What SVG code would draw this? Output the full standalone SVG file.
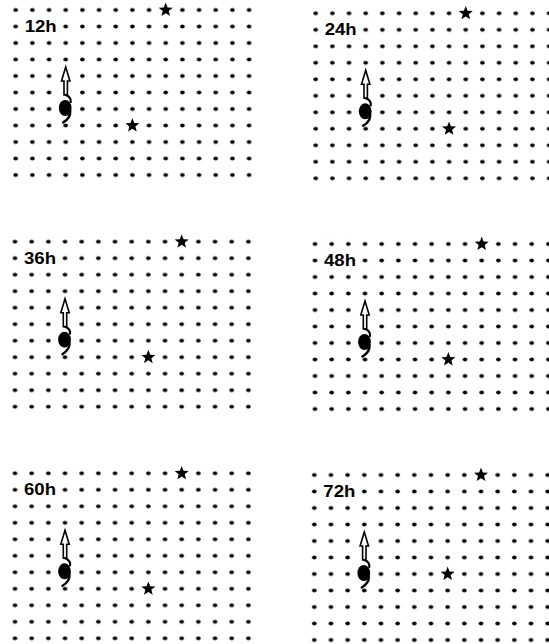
<svg xmlns="http://www.w3.org/2000/svg" xmlns:xlink="http://www.w3.org/1999/xlink" width="549" height="644" viewBox="0 0 549 644">
<style>
.grid{fill:url(#dots)}
.lblbg{fill:#fff}
.lbl{font-family:"Liberation Sans",Arial,sans-serif;font-weight:bold;font-size:16px;fill:#000}
.arrow{fill:#fff;stroke:#000;stroke-width:1.6;stroke-linejoin:miter}
.stroke{fill:none;stroke:#000;stroke-linecap:round}
</style>
<defs>
<pattern id="dots" width="16.67" height="16.5" patternUnits="userSpaceOnUse" x="-8.335" y="-8.25">
<ellipse cx="8.335" cy="8.25" rx="2.3" ry="1.9" fill="#000"/>
</pattern>
<path id="star" d="M0,-7.4 L1.85,-2.55 L7.04,-2.29 L2.99,0.97 L4.35,5.99 L0,3.15 L-4.35,5.99 L-2.99,0.97 L-7.04,-2.29 L-1.85,-2.55 Z" fill="#000"/>
<g id="storm">
<rect x="-3.4" y="-37" width="6.8" height="24" fill="#fff"/>
<polygon class="arrow" points="0,-42 4.2,-28 1.7,-28 1.7,-14 -1.7,-14 -1.7,-28 -4.2,-28"/>
<path class="stroke" d="M0,-14 C3,-13 5.5,-11 5,-7" stroke-width="2.2"/>
<ellipse cx="-0.5" cy="-1" rx="6.4" ry="8" fill="#000"/>
<path class="stroke" d="M4.5,2 C5,8 1.5,11 -2.5,13.5" stroke-width="2.4"/>
</g>
</defs>
<rect width="549" height="644" fill="#fff"/>

<g id="panel-12h" transform="translate(15.7,10)">
<rect class="grid" x="-8.335" y="-8.25" width="250.05" height="181.5"/>
<rect class="lblbg" x="8.5" y="9" width="33" height="15"/>
<text class="lbl" x="25" y="22.2" text-anchor="middle" textLength="32" lengthAdjust="spacingAndGlyphs">12h</text>
<use xlink:href="#star" x="150.03" y="0"/>
<use xlink:href="#star" x="116.69" y="115.5"/>
<use xlink:href="#storm" x="50" y="99"/>
</g>

<g id="panel-24h" transform="translate(315.7,13.3)">
<rect class="grid" x="-8.335" y="-8.25" width="250.05" height="181.5"/>
<rect class="lblbg" x="8.5" y="9" width="33" height="15"/>
<text class="lbl" x="25" y="22.2" text-anchor="middle" textLength="32" lengthAdjust="spacingAndGlyphs">24h</text>
<use xlink:href="#star" x="150.03" y="0"/>
<use xlink:href="#star" x="133.36" y="115.5"/>
<use xlink:href="#storm" x="50" y="99"/>
</g>

<g id="panel-36h" transform="translate(15,241.7)">
<rect class="grid" x="-8.335" y="-8.25" width="250.05" height="181.5"/>
<rect class="lblbg" x="8.5" y="9" width="33" height="15"/>
<text class="lbl" x="25" y="22.2" text-anchor="middle" textLength="32" lengthAdjust="spacingAndGlyphs">36h</text>
<use xlink:href="#star" x="166.7" y="0"/>
<use xlink:href="#star" x="133.36" y="115.5"/>
<use xlink:href="#storm" x="50" y="99"/>
</g>

<g id="panel-48h" transform="translate(315,244)">
<rect class="grid" x="-8.335" y="-8.25" width="250.05" height="181.5"/>
<rect class="lblbg" x="8.5" y="9" width="33" height="15"/>
<text class="lbl" x="25" y="22.2" text-anchor="middle" textLength="32" lengthAdjust="spacingAndGlyphs">48h</text>
<use xlink:href="#star" x="166.7" y="0"/>
<use xlink:href="#star" x="133.36" y="115.5"/>
<use xlink:href="#storm" x="50" y="99"/>
</g>

<g id="panel-60h" transform="translate(15,473.3)">
<rect class="grid" x="-8.335" y="-8.25" width="250.05" height="181.5"/>
<rect class="lblbg" x="8.5" y="9" width="33" height="15"/>
<text class="lbl" x="25" y="22.2" text-anchor="middle" textLength="32" lengthAdjust="spacingAndGlyphs">60h</text>
<use xlink:href="#star" x="166.7" y="0"/>
<use xlink:href="#star" x="133.36" y="115.5"/>
<use xlink:href="#storm" x="50" y="99"/>
</g>

<g id="panel-72h" transform="translate(314.3,475)">
<rect class="grid" x="-8.335" y="-8.25" width="250.05" height="181.5"/>
<rect class="lblbg" x="8.5" y="9" width="33" height="15"/>
<text class="lbl" x="25" y="22.2" text-anchor="middle" textLength="32" lengthAdjust="spacingAndGlyphs">72h</text>
<use xlink:href="#star" x="166.7" y="0"/>
<use xlink:href="#star" x="133.36" y="99"/>
<use xlink:href="#storm" x="50" y="99"/>
</g>

<g id="connectors"></g>
</svg>
